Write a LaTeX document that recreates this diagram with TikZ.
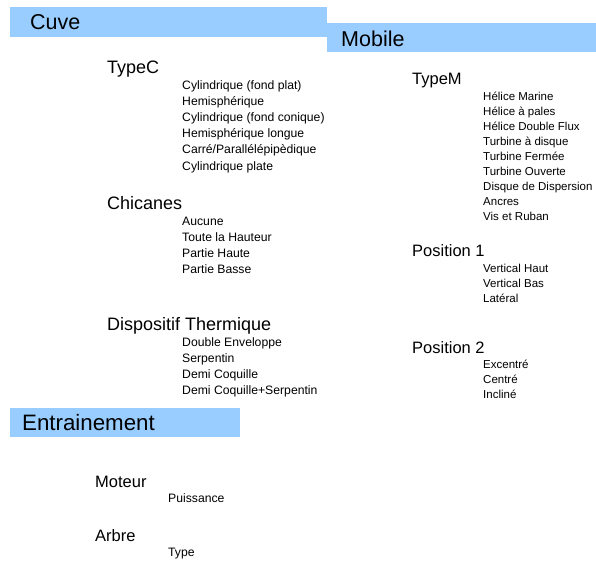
\documentclass[tikz,border=0pt]{standalone}
\usepackage{fontspec}
\setmainfont{Liberation Sans}
\definecolor{barblue}{RGB}{153,204,255}

\begin{document}
\begin{tikzpicture}[x=1pt,y=-1pt,
    bar/.style={fill=barblue},
    title/.style={anchor=base west,inner sep=0pt,font=\fontsize{21.5}{25}\selectfont},
    head/.style={anchor=base west,inner sep=0pt,font=\fontsize{16.5}{20}\selectfont},
    chead/.style={head,font=\fontsize{18}{21}\selectfont},
    item/.style={anchor=base west,inner sep=0pt,font=\fontsize{12.2}{14}\selectfont},
    mitem/.style={anchor=base west,inner sep=0pt,font=\fontsize{11.5}{13}\selectfont}]
  \useasboundingbox (0,0) rectangle (596,560);

  % bandeaux
  \fill[bar] (10,7) rectangle (327,37);
  \fill[bar] (327,23) rectangle (596,52);
  \fill[bar] (10,408) rectangle (240,437);

  \node[title] (cuve) at (30,29.5) {Cuve};
  \node[title] (mobile) at (341,46.5) {Mobile};
  \node[title,font=\fontsize{22.3}{26}\selectfont] (entrainement) at (22,430) {Entrainement};

  % cuve
  \node[chead] (typec) at (107,73) {TypeC};
  \foreach \t [count=\i from 0] in {Cylindrique (fond plat),Hemisphérique,
      Cylindrique (fond conique),Hemisphérique longue,
      Carré/Parallélépipèdique,Cylindrique plate}
    \node[item] (typec\i) at (182,{89+16.2*\i}) {\t};

  \node[chead] (chicanes) at (107,209) {Chicanes};
  \foreach \t [count=\i from 0] in {Aucune,Toute la Hauteur,Partie Haute,Partie Basse}
    \node[item] (chicanes\i) at (182,{225+16.3*\i}) {\t};

  \node[chead] (thermique) at (107,330) {Dispositif Thermique};
  \foreach \t [count=\i from 0] in {Double Enveloppe,Serpentin,Demi Coquille,
      Demi Coquille+Serpentin}
    \node[item] (thermique\i) at (182,{346+16.3*\i}) {\t};

  % mobile
  \node[head] (typem) at (412,84.5) {TypeM};
  \foreach \t [count=\i from 0] in {Hélice Marine,Hélice à pales,Hélice Double Flux,
      Turbine à disque,Turbine Fermée,Turbine Ouverte,Disque de Dispersion,
      Ancres,Vis et Ruban}
    \node[mitem] (typem\i) at (483,{100+15*\i}) {\t};

  \node[head] (pos1) at (412,256) {Position 1};
  \foreach \t [count=\i from 0] in {Vertical Haut,Vertical Bas,Latéral}
    \node[mitem] (pos1\i) at (483,{272+15*\i}) {\t};

  \node[head] (pos2) at (412,353) {Position 2};
  \foreach \t [count=\i from 0] in {Excentré,Centré,Incliné}
    \node[mitem] (pos2\i) at (483,{368+15*\i}) {\t};

  % entrainement
  \node[head] (moteur) at (95,487) {Moteur};
  \node[item] (puissance) at (168,502) {Puissance};
  \node[head] (arbre) at (95,541) {Arbre};
  \node[item] (type) at (168,556) {Type};

\end{tikzpicture}
\end{document}
